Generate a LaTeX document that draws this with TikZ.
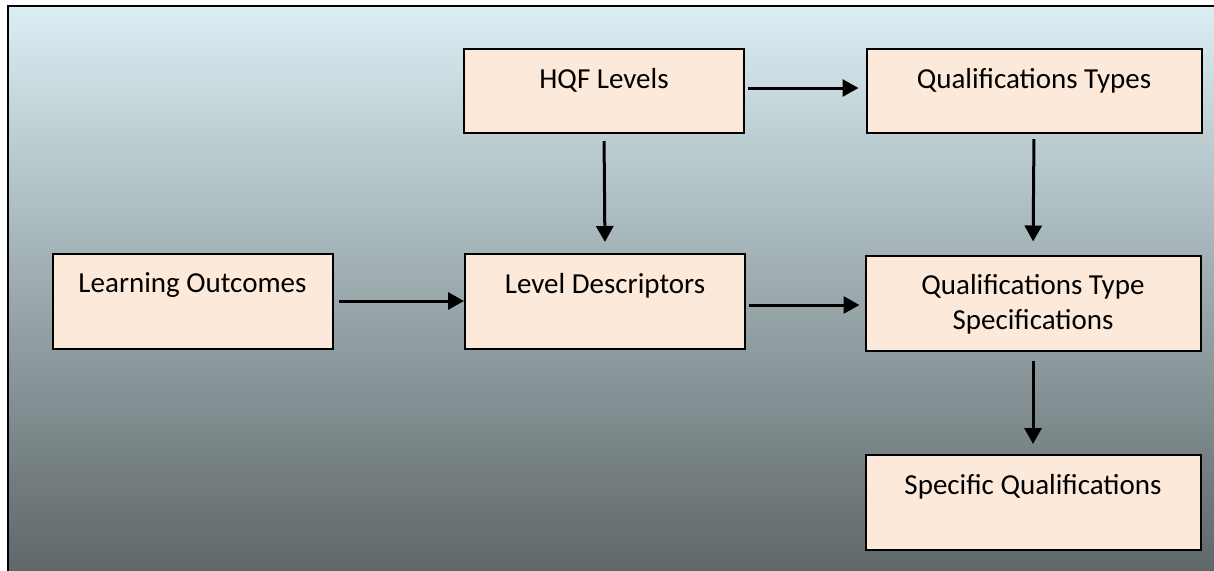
\documentclass[tikz,border=0pt]{standalone}
\usepackage{fontspec}
\setmainfont{Carlito}
\usetikzlibrary{arrows.meta}
\definecolor{peach}{RGB}{253,233,217}
\definecolor{skytop}{RGB}{218,238,243}
\definecolor{skymid}{RGB}{164,180,185}
\definecolor{skybot}{RGB}{93,101,103}

\begin{document}
\begin{tikzpicture}[x=0.5pt,y=-0.5pt,
  box/.style={draw=black,line width=1pt,fill=peach,inner xsep=0pt,inner ysep=0pt,
    minimum width=140pt,text height=19.5pt,text depth=28pt,
    font=\fontsize{14.5}{17.5}\selectfont},
  wide/.style={minimum width=167.5pt},
  flat/.style={text depth=22.5pt},
  arr/.style={line width=1.5pt,-{Triangle[length=8pt,width=8.5pt]}}]
\useasboundingbox (0,0) rectangle (1214,570);
% background panel
\draw[line width=1pt,top color=skytop,middle color=skymid,bottom color=skybot] (8,6) rectangle (1224,578);
% boxes
\node[box,flat] (hqf) at (604,91) {HQF Levels};
\node[box,flat,wide] (qt) at (1034,91) {Qualifications Types};
\node[box] (lo) at (192.5,301) {Learning Outcomes};
\node[box] (ld) at (605,301.5) {Level Descriptors};
\node[box,wide] (qts) at (1033,303) {\begin{tabular}[t]{@{}c@{}}Qualifications Type\\Specifications\end{tabular}};
\node[box,wide] (sq) at (1033,502.5) {Specific Qualifications};
% arrows
\draw[arr,shorten <=1.5pt,shorten >=3.5pt] ([yshift=1.5pt]hqf.east) -- ([yshift=1.5pt]qt.west);
\draw[arr,shorten <=3.5pt,shorten >=5.5pt] (hqf.south) -- (ld.north);
\draw[arr,shorten <=2.5pt] (lo.east) -- (lo.east -| ld.west);
\draw[arr,shorten <=1.5pt,shorten >=2.5pt] ([yshift=-1.75pt]ld.east) -- ([yshift=-1.75pt]ld.east -| qts.west);
\draw[arr,shorten <=2.5pt,shorten >=6.5pt] (qt.south) -- (qts.north);
\draw[arr,shorten <=4.5pt,shorten >=5pt] (qts.south) -- (sq.north);
\end{tikzpicture}
\end{document}
